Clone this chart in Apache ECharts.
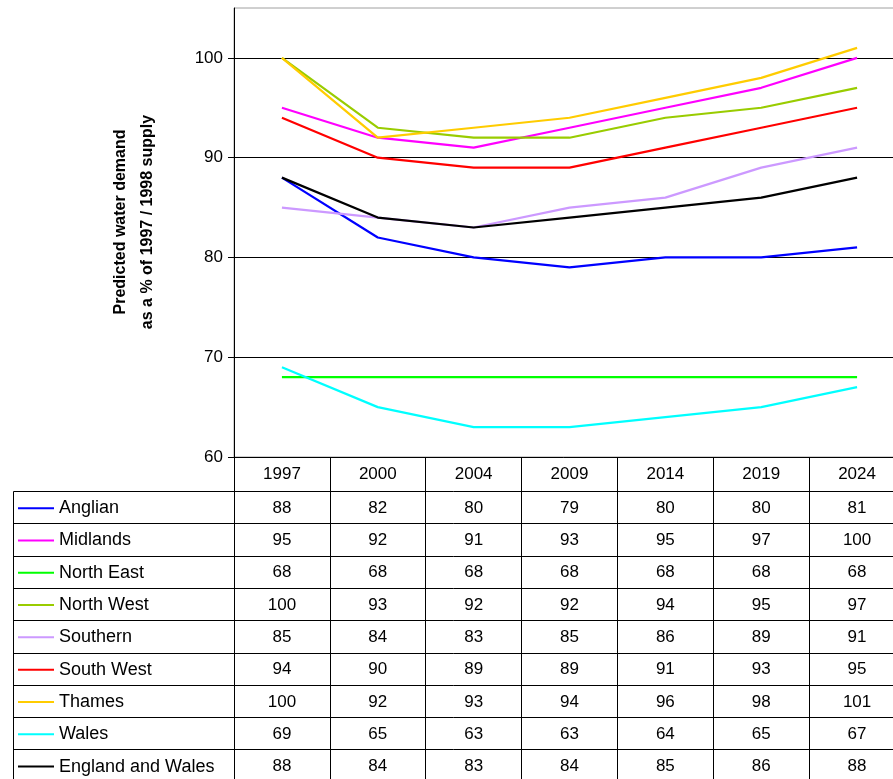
<!DOCTYPE html>
<html>
<head>
<meta charset="utf-8">
<script src="https://cdn.jsdelivr.net/npm/echarts@6/dist/echarts.min.js"></script>
<style>
  html, body { margin: 0; padding: 0; background: #fff; }
  #chart { width: 893px; height: 779px; }
</style>
</head>
<body>
<div id="chart"></div>
<script>
// Forecast years shown along the bottom axis / table header
const years = ['1997', '2000', '2004', '2009', '2014', '2019', '2024'];

// Predicted demand as % of 1997/1998 supply, per region
const anglian      = [88, 82, 80, 79, 80, 80, 81];
const midlands     = [95, 92, 91, 93, 95, 97, 100];
const northEast    = [68, 68, 68, 68, 68, 68, 68];
const northWest    = [100, 93, 92, 92, 94, 95, 97];
const southern     = [85, 84, 83, 85, 86, 89, 91];
const southWest    = [94, 90, 89, 89, 91, 93, 95];
const thames       = [100, 92, 93, 94, 96, 98, 101];
const wales        = [69, 65, 63, 63, 64, 65, 67];
const englandWales = [88, 84, 83, 84, 85, 86, 88];

const regionNames = ['Anglian', 'Midlands', 'North East', 'North West', 'Southern',
                     'South West', 'Thames', 'Wales', 'England and Wales'];
const regionData = [anglian, midlands, northEast, northWest, southern,
                    southWest, thames, wales, englandWales];
const regionColors = ['#0000ff', '#ff00ff', '#00ff00', '#99cc00', '#cc99ff',
                      '#ff0000', '#ffcc00', '#00ffff', '#000000'];

const FONT = "'Liberation Sans', Arial, sans-serif";

const chart = echarts.init(document.getElementById('chart'), null, { renderer: 'canvas' });

const option = {
  animation: false,
  backgroundColor: '#ffffff',
  grid: {
    left: 234, top: 8, bottom: 322, right: -12,
    outerBoundsMode: 'none',
    containLabel: false,
    show: true, borderColor: '#a0a0a0', borderWidth: 1
  },
  xAxis: {
    type: 'category',
    data: years,
    boundaryGap: true,
    axisLine: { lineStyle: { color: '#000', width: 1 } },
    axisTick: { show: true, length: 340, lineStyle: { color: '#000', width: 1 } },
    axisLabel: { color: '#000', fontFamily: FONT, fontSize: 17, margin: 9 },
    splitLine: { show: false }
  },
  yAxis: {
    type: 'value',
    min: 60, max: 105, interval: 10,
    axisLine: { show: true, lineStyle: { color: '#000', width: 1 } },
    axisTick: { show: true, length: 6, lineStyle: { color: '#000' } },
    axisLabel: { color: '#000', fontFamily: FONT, fontSize: 17, margin: 11, showMaxLabel: false },
    splitLine: { show: true, showMinLine: false, showMaxLine: false, lineStyle: { color: '#000', width: 1 } }
  },
  series: regionNames.map((name, i) => ({
    name: name,
    type: 'line',
    data: regionData[i],
    smooth: false,
    symbol: 'none',
    lineStyle: { color: regionColors[i], width: 2.2 },
    z: 2 + i
  }))
};

chart.setOption(option);

// Data table under the plot: legend keys, region names and values per year
function buildTable() {
  const xs = years.map((_, i) => chart.convertToPixel({ xAxisIndex: 0 }, i));
  const band = xs[1] - xs[0];
  const plotRight = xs[xs.length - 1] + band / 2;
  const axisY = chart.convertToPixel({ yAxisIndex: 0 }, 60);
  const headerH = 34;
  const rowH = 32.3;
  const tableLeft = 13.5;
  const firstRow = axisY + headerH;
  const bottom = firstRow + rowH * regionNames.length;

  const els = [];
  // row separators
  for (let r = 0; r <= regionNames.length; r++) {
    const y = Math.round(firstRow + r * rowH) + 0.5;
    els.push({
      type: 'line',
      shape: { x1: tableLeft, y1: y, x2: plotRight + 20, y2: y },
      style: { stroke: '#000', lineWidth: 1 }
    });
  }
  // left border of the legend column
  els.push({
    type: 'line',
    shape: { x1: tableLeft, y1: Math.round(firstRow) + 0.5, x2: tableLeft, y2: bottom + 10 },
    style: { stroke: '#000', lineWidth: 1 }
  });
  // rows
  regionNames.forEach((name, r) => {
    const cy = firstRow + r * rowH + rowH / 2 + 1;
    els.push({
      type: 'line',
      shape: { x1: 18, y1: cy, x2: 54, y2: cy },
      style: { stroke: regionColors[r], lineWidth: 2 }
    });
    els.push({
      type: 'text',
      x: 59, y: cy,
      style: { text: name, fill: '#000', font: '18px ' + FONT, textAlign: 'left', textVerticalAlign: 'middle' }
    });
    regionData[r].forEach((v, c) => {
      els.push({
        type: 'text',
        x: xs[c], y: cy,
        style: { text: String(v), fill: '#000', font: '17px ' + FONT, textAlign: 'center', textVerticalAlign: 'middle' }
      });
    });
  });
  // vertical axis title
  els.push({
    type: 'text',
    x: 134, y: 222,
    rotation: Math.PI / 2,
    style: {
      text: 'Predicted water demand\nas a % of 1997 / 1998 supply',
      fill: '#000', font: 'bold 16px ' + FONT,
      textAlign: 'center', textVerticalAlign: 'middle', lineHeight: 27
    }
  });
  chart.setOption({ graphic: { elements: els } });
}
buildTable();
</script>
</body>
</html>
